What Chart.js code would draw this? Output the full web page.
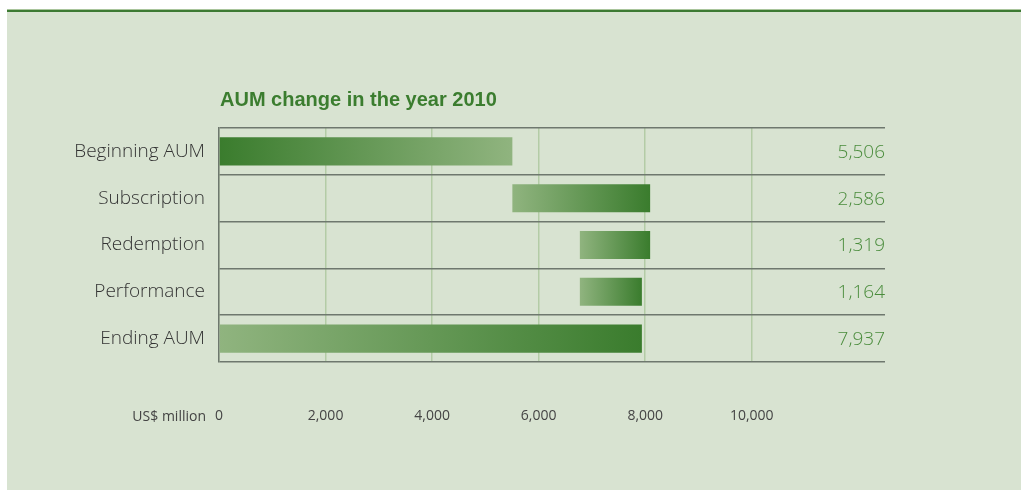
<!DOCTYPE html>
<html>
<head>
<meta charset="utf-8">
<script src="https://cdn.jsdelivr.net/npm/chart.js@4/dist/chart.umd.min.js"></script>
<style>
  body { margin: 0; background: #fff; }
  #panel {
    position: absolute; left: 7px; top: 10px; width: 1014px; height: 480px;
    background: #d8e3d1; border-top: 2px solid #3d7a33;
    box-shadow: 0 -1px 0 #a9c59c;
  }
  #wrap { position: absolute; left: 0; top: 0; width: 1021px; height: 490px; }
</style>
</head>
<body>
<div id="panel"></div>
<div id="wrap"><canvas id="chart" width="1021" height="490"></canvas></div>
<script>
// AUM waterfall, US$ million
var categories = ['Beginning AUM', 'Subscription', 'Redemption', 'Performance', 'Ending AUM'];
var amounts = [5506, 2586, 1319, 1164, 7937];
var amountLabels = ['5,506', '2,586', '1,319', '1,164', '7,937'];
// floating bar ranges [start, end]
var barStart = [0, 5506, 6773, 6773, 0];
var barEnd = [5506, 8092, 8092, 7937, 7937];
var tickValues = [0, 2000, 4000, 6000, 8000, 10000];

var darkGreen = '#3a7c2d';
var lightGreen = '#90b47f';

function barFill(ctx) {
  var chart = ctx.chart;
  if (!chart.chartArea || ctx.dataIndex === undefined) return darkGreen;
  var xs = chart.scales.x;
  var i = ctx.dataIndex;
  var x0 = xs.getPixelForValue(barStart[i]);
  var x1 = xs.getPixelForValue(barEnd[i]);
  var g = chart.ctx.createLinearGradient(x0, 0, x1, 0);
  if (i === 0) {
    g.addColorStop(0, darkGreen);
    g.addColorStop(1, lightGreen);
  } else {
    g.addColorStop(0, lightGreen);
    g.addColorStop(1, darkGreen);
  }
  return g;
}

var extraText = {
  id: 'extraText',
  afterDraw: function (chart) {
    var c = chart.ctx;
    var area = chart.chartArea;
    var ys = chart.scales.y;
    c.save();
    // title
    c.fillStyle = '#3b7d2f';
    c.font = 'bold 20px "Liberation Sans", sans-serif';
    c.textAlign = 'left';
    c.textBaseline = 'middle';
    c.fillText('AUM change in the year 2010', 220, 100);
    // values on the right
    c.fillStyle = '#4a8c3c';
    c.font = '300 19px "Open Sans", sans-serif';
    c.textAlign = 'right';
    for (var i = 0; i < categories.length; i++) {
      c.fillText(amountLabels[i], area.right, ys.getPixelForValue(i) + 1);
    }
    // unit label
    c.fillStyle = '#444';
    c.font = '14px "Open Sans", sans-serif';
    c.fillText('US$ million', 206, 417);
    c.restore();
  }
};

new Chart(document.getElementById('chart'), {
  type: 'bar',
  data: {
    labels: categories,
    datasets: [{
      data: barStart.map(function (s, i) { return [s, barEnd[i]]; }),
      backgroundColor: barFill,
      borderWidth: 0,
      barPercentage: 0.6,
      categoryPercentage: 1.0
    }]
  },
  options: {
    indexAxis: 'y',
    responsive: false,
    animation: false,
    layout: { padding: { top: 128, right: 136, bottom: 68, left: 0 } },
    plugins: { legend: { display: false }, tooltip: { enabled: false }, title: { display: false } },
    scales: {
      x: {
        min: 0,
        max: 12500,
        afterBuildTicks: function (scale) {
          scale.ticks = tickValues.map(function (v) { return { value: v }; });
        },
        afterFit: function (scale) { scale.height = 60; },
        ticks: {
          padding: 46,
          color: '#444',
          font: { family: '"Open Sans", sans-serif', size: 14 },
          callback: function (v) { return v.toLocaleString('en-US'); }
        },
        grid: { color: '#b3cca6', lineWidth: 1.5, drawTicks: false },
        border: { display: false }
      },
      y: {
        afterFit: function (scale) { scale.width = 219; },
        ticks: {
          padding: 14,
          color: '#333',
          font: { family: '"Open Sans", sans-serif', size: 19, weight: 300 }
        },
        grid: { color: '#6e786e', lineWidth: 1.5, drawTicks: false, offset: true },
        border: { color: '#6e786e', width: 1.5 }
      }
    }
  },
  plugins: [extraText]
});
</script>
</body>
</html>
